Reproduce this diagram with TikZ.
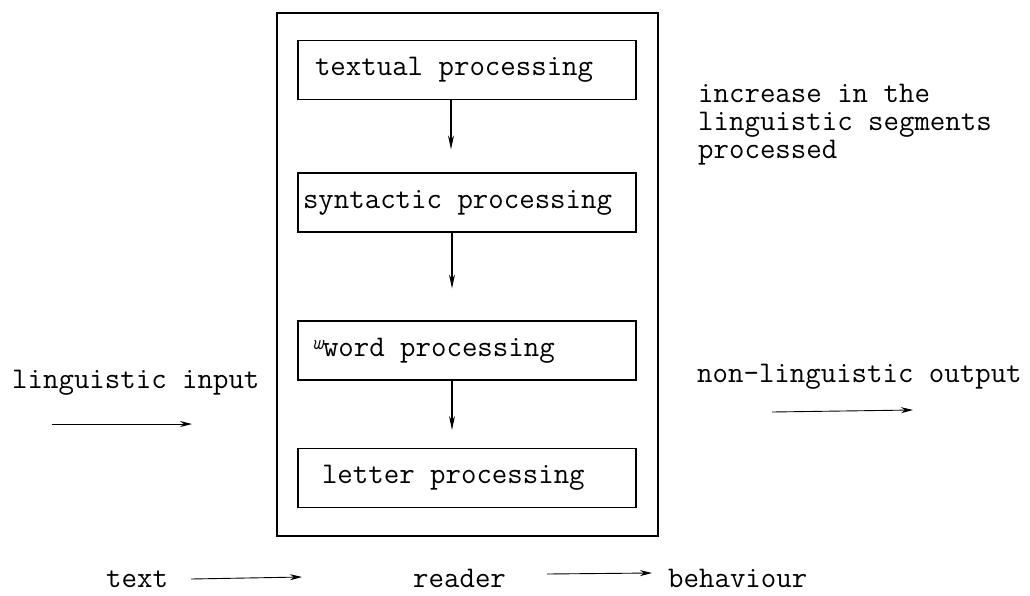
\documentclass[tikz,border=0pt]{standalone}
\usetikzlibrary{arrows.meta}
\begin{document}
\begin{tikzpicture}[x=1pt,y=-1pt,
  font=\fontsize{30}{28}\selectfont\ttfamily,
  procbox/.style={draw, line width=1.2pt, minimum height=59pt, inner ysep=0pt, font=\fontsize{30}{28}\selectfont\ttfamily},
  varr/.style={-{Stealth[length=14pt,width=6pt]}, line width=1.1pt},
  harr/.style={-{Stealth[length=12pt,width=6pt]}, line width=0.9pt},
  lbl/.style={inner sep=0pt, anchor=base west}]
\useasboundingbox (0,0) rectangle (1030,595);
% outer box (reader)
\node[draw, line width=1.3pt, minimum width=381pt, minimum height=523pt, inner sep=0pt] (system) at (467.5,274.5) {};
% processing boxes
\node[procbox, inner xsep=17pt] (textual) at (467,70) {\makebox[304pt][l]{textual processing}};
\node[procbox, inner xsep=5pt] (syntactic) at (467,202.5) {\makebox[328pt][l]{syntactic processing}};
\node[procbox, inner xsep=14pt] (word) at (467,350.5) {\makebox[310pt][l]{\raisebox{0.5ex}{\fontsize{21}{21}\selectfont\itshape w}word processing}};
\node[procbox, inner xsep=24pt] (letter) at (467,478) {\makebox[290pt][l]{letter processing}};
% vertical arrows
\draw[varr, shorten >=23pt] ([xshift=-16pt]textual.south) -- ([xshift=-16pt]syntactic.north);
\draw[varr, shorten >=32pt] ([xshift=-15pt]syntactic.south) -- ([xshift=-15pt]word.north);
\draw[varr, shorten >=18pt] ([xshift=-15pt]word.south) -- ([xshift=-15pt]letter.north);
% side texts
\node[inner sep=0pt, anchor=north west, align=left] (incr) at (698,84) {increase in the\\linguistic segments\\processed};
\node[lbl] (lin) at (12,388) {linguistic input};
\node[lbl] (nonlin) at (697,382) {non-linguistic output};
\coordinate (lin-a) at (52,424);
\coordinate (lin-b) at (192,424);
\draw[harr] (lin-a) -- (lin-b);
\coordinate (out-a) at (772,412);
\coordinate (out-b) at (913,410);
\draw[harr] (out-a) -- (out-b);
% bottom line
\node[lbl] (text) at (106,587) {text};
\node[lbl] (reader) at (413,587) {reader};
\node[lbl] (behav) at (668,587) {behaviour};
\coordinate (t-a) at (191,579);
\coordinate (t-b) at (302,577);
\draw[harr] (t-a) -- (t-b);
\coordinate (r-a) at (547,574);
\coordinate (r-b) at (652,573);
\draw[harr] (r-a) -- (r-b);
\end{tikzpicture}
\end{document}
